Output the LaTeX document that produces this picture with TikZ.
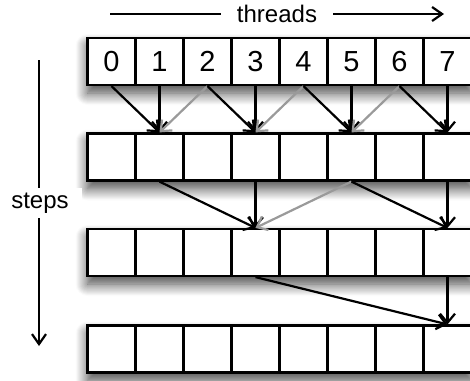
\documentclass[tikz,border=0pt]{standalone}
\usepackage{fontspec}
\setmainfont{Liberation Sans}
\usetikzlibrary{arrows.meta,shadows.blur}
\definecolor{arrgray}{HTML}{9A9A9A}
\tikzset{
  cell/.style={draw=black, line width=2.2pt, fill=white, minimum width=48pt, minimum height=47pt, inner sep=0pt},
  digit/.style={font=\fontsize{29}{32}\selectfont, inner sep=0pt},
  rowshadow/.style={fill=white, draw=none, blur shadow={shadow xshift=0pt, shadow yshift=-8pt, shadow blur radius=12pt, shadow blur steps=12, shadow opacity=75}},
  arr/.style={line width=2.2pt, -{Straight Barb[length=9pt,width=15pt]}},
  garr/.style={arr, draw=arrgray},
  axisarr/.style={line width=2.2pt, -{Straight Barb[length=10pt,width=14pt]}},
  lbl/.style={fill=white, inner sep=0pt, font=\fontsize{24}{28}\selectfont}
}
\begin{document}
\begin{tikzpicture}[x=1pt,y=-1pt]
\useasboundingbox (0,0) rectangle (470,380);
\clip (0,0) rectangle (470,380);
% axes
\coordinate (tL) at (110,14);
\coordinate (tR) at (444,14);
\draw[axisarr] (tL) -- (tR);
\node[lbl, minimum height=26pt, inner xsep=16pt] (threads) at (277,14) {threads};
\coordinate (sT) at (39,60);
\coordinate (sB) at (39,346);
\draw[axisarr] (sT) -- (sB);
% rows
\foreach \r/\y in {1/61.5, 2/157, 3/252.5, 4/349} {
  \path[rowshadow] (87.5,\y-23.5) rectangle (471.5,\y+23.5);
}
\foreach \r/\y in {1/61.5, 2/157, 3/252.5, 4/349} {
  \foreach \i in {0,...,7} {
    \node[cell] (c\r-\i) at (111.5+48*\i, \y) {};
  }
}
\foreach \i in {0,...,7} { \node[digit] (d\i) at (c1-\i) {\i}; }
\node[lbl, minimum height=30pt, minimum width=84pt] (steps) at (40,203) {steps};
% step 1
\draw[arr] (c1-0.south) -- (c2-1.north);
\draw[arr] (c1-1.south) -- (c2-1.north);
\draw[garr] (c1-2.south) -- (c2-1.north);
\draw[arr] (c1-2.south) -- (c2-3.north);
\draw[arr] (c1-3.south) -- (c2-3.north);
\draw[garr] (c1-4.south) -- (c2-3.north);
\draw[arr] (c1-4.south) -- (c2-5.north);
\draw[arr] (c1-5.south) -- (c2-5.north);
\draw[garr] (c1-6.south) -- (c2-5.north);
\draw[arr] (c1-6.south) -- (c2-7.north);
\draw[arr] (c1-7.south) -- (c2-7.north);
% step 2
\draw[arr] (c2-1.south) -- (c3-3.north);
\draw[arr] (c2-3.south) -- (c3-3.north);
\draw[garr] (c2-5.south) -- (c3-3.north);
\draw[arr] (c2-5.south) -- (c3-7.north);
\draw[arr] (c2-7.south) -- (c3-7.north);
% step 3
\draw[arr] (c3-3.south) -- (c4-7.north);
\draw[arr] (c3-7.south) -- (c4-7.north);
\end{tikzpicture}
\end{document}
